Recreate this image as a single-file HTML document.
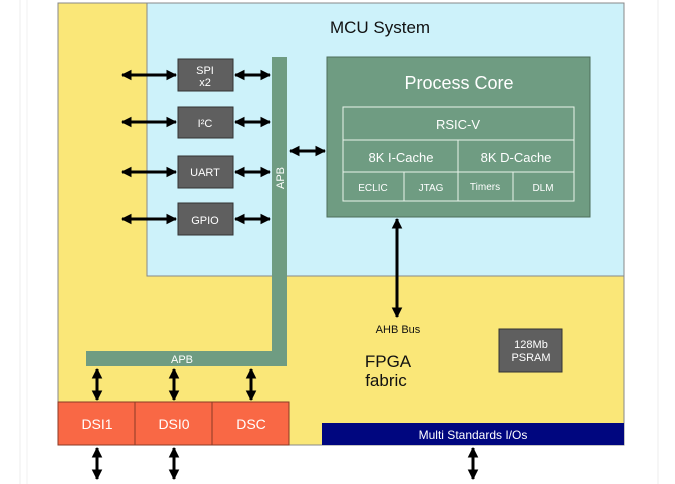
<!DOCTYPE html>
<html><head><style>
html,body{margin:0;padding:0;background:#fff;}
svg{display:block;font-family:"Liberation Sans",Arial,sans-serif;}
</style></head><body>
<svg width="675" height="484" viewBox="0 0 675 484" xmlns="http://www.w3.org/2000/svg">
<defs>
<marker id="ah" viewBox="0 0 10 10" refX="9" refY="5" markerWidth="3.6" markerHeight="3.6" orient="auto-start-reverse">
<path d="M0,0 L10,5 L0,10 z" fill="#000"/></marker>
</defs>
<line x1="20" y1="0" x2="20" y2="484" stroke="#eee"/>
<line x1="27" y1="0" x2="27" y2="484" stroke="#f2f2f2"/>
<line x1="658" y1="0" x2="658" y2="484" stroke="#eee"/>
<rect x="58" y="3" width="566" height="442" fill="#fae778" stroke="#888" stroke-width="1"/>
<rect x="147" y="3" width="477" height="273" fill="#cdf2fa" stroke="#888" stroke-width="1"/>
<text x="380" y="33" font-size="17" text-anchor="middle" fill="#111">MCU System</text>
<rect x="327" y="57" width="263" height="160" fill="#6f9c82" stroke="#4d6e5a"/>
<text x="459" y="89" font-size="18" text-anchor="middle" fill="#fff">Process Core</text>
<g stroke="#e8f3ea" stroke-width="1" fill="none">
<rect x="343" y="107" width="231" height="94"/>
<line x1="343" y1="140" x2="574" y2="140"/>
<line x1="343" y1="172" x2="574" y2="172"/>
<line x1="458" y1="140" x2="458" y2="201"/>
<line x1="404" y1="172" x2="404" y2="201"/>
<line x1="513" y1="172" x2="513" y2="201"/>
</g>
<g fill="#fff" text-anchor="middle">
<text x="458" y="129" font-size="13">RSIC-V</text>
<text x="401" y="162" font-size="13">8K I-Cache</text>
<text x="516" y="162" font-size="13">8K D-Cache</text>
<text x="373" y="191" font-size="10">ECLIC</text>
<text x="431" y="191" font-size="10">JTAG</text>
<text x="485" y="190" font-size="10">Timers</text>
<text x="543" y="191" font-size="10">DLM</text>
</g>
<rect x="272" y="57" width="15" height="309" fill="#6f9c82"/>
<rect x="86" y="351" width="201" height="15" fill="#6f9c82"/>
<text x="0" y="0" font-size="11" fill="#fff" text-anchor="middle" transform="translate(284,178) rotate(-90)">APB</text>
<text x="182" y="363" font-size="11" fill="#fff" text-anchor="middle">APB</text>
<g fill="#5f5f5f" stroke="#333">
<rect x="178" y="59" width="55" height="32"/>
<rect x="178" y="107" width="55" height="31"/>
<rect x="178" y="156" width="55" height="32"/>
<rect x="178" y="203" width="55" height="32"/>
</g>
<g fill="#fff" font-size="11" text-anchor="middle">
<text x="205" y="74">SPI</text><text x="205" y="86">x2</text>
<text x="205" y="127">I²C</text>
<text x="205" y="176">UART</text>
<text x="205" y="224">GPIO</text>
</g>
<g stroke="#000" stroke-width="3" marker-start="url(#ah)" marker-end="url(#ah)">
<line x1="122" y1="75" x2="176" y2="75"/>
<line x1="235" y1="75" x2="270" y2="75"/>
<line x1="122" y1="122" x2="176" y2="122"/>
<line x1="235" y1="122" x2="270" y2="122"/>
<line x1="122" y1="172" x2="176" y2="172"/>
<line x1="235" y1="172" x2="270" y2="172"/>
<line x1="122" y1="219" x2="176" y2="219"/>
<line x1="235" y1="219" x2="270" y2="219"/>
<line x1="290" y1="151" x2="325" y2="151"/>
<line x1="397" y1="219" x2="397" y2="317"/>
<line x1="97" y1="369" x2="97" y2="400"/>
<line x1="174" y1="369" x2="174" y2="400"/>
<line x1="251" y1="369" x2="251" y2="400"/>
<line x1="97" y1="448" x2="97" y2="479"/>
<line x1="174" y1="448" x2="174" y2="479"/>
<line x1="473" y1="448" x2="473" y2="479"/>
</g>
<text x="398" y="333" font-size="11" text-anchor="middle" fill="#111">AHB Bus</text>
<text x="388" y="367" font-size="17" text-anchor="middle" fill="#111">FPGA</text>
<text x="386" y="386" font-size="17" text-anchor="middle" fill="#111">fabric</text>
<rect x="499" y="329" width="63" height="43" fill="#5f5f5f" stroke="#333"/>
<text x="531" y="348" font-size="11" fill="#fff" text-anchor="middle">128Mb</text>
<text x="531" y="361" font-size="11" fill="#fff" text-anchor="middle">PSRAM</text>
<g fill="#f96845" stroke="#8a3a25">
<rect x="58" y="402" width="77" height="43"/>
<rect x="135" y="402" width="77" height="43"/>
<rect x="212" y="402" width="77" height="43"/>
</g>
<g fill="#fff" font-size="14" text-anchor="middle">
<text x="97" y="429">DSI1</text>
<text x="174" y="429">DSI0</text>
<text x="251" y="429">DSC</text>
</g>
<rect x="322" y="423" width="302" height="22" fill="#00067f"/>
<text x="473" y="439" font-size="12" fill="#fff" text-anchor="middle">Multi Standards I/Os</text>
</svg>
</body></html>
